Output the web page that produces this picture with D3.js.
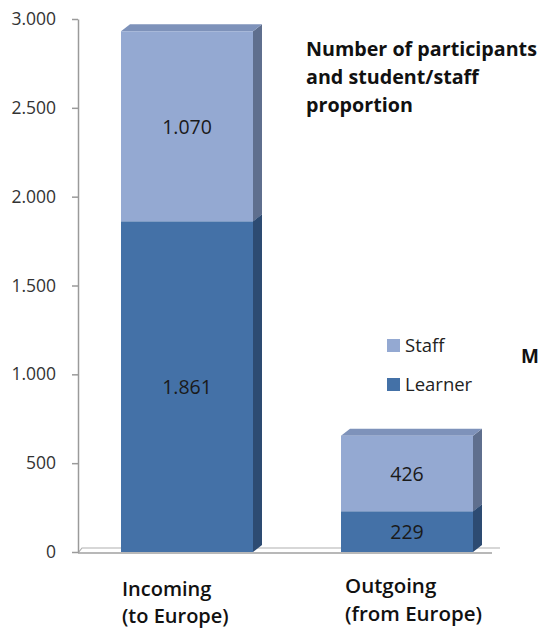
<!DOCTYPE html>
<html>
<head>
<meta charset="utf-8">
<script src="https://cdn.jsdelivr.net/npm/d3@7"></script>
<style>
  body { margin: 0; background: #fff; }
  svg { display: block; font-family: "Open Sans", Lato, sans-serif; }
</style>
</head>
<body>
<script>
// chart values
var categories = ['Incoming', 'Outgoing'];
var categoryLines = [['Incoming', '(to Europe)'], ['Outgoing', '(from Europe)']];
var learner = [1861, 229];
var staff = [1070, 426];
var seriesNames = ['Staff', 'Learner'];
var yTicks = [0, 500, 1000, 1500, 2000, 2500, 3000];
var titleLines = ['Number of participants', 'and student/staff', 'proportion'];

var width = 540, height = 630;
var depthX = 9, depthY = 7;

var colors = {
  Learner: { front: '#4471a7', side: '#2d4b72', top: '#3a6293' },
  Staff:   { front: '#94a9d2', side: '#5f6f8e', top: '#7e92ba' }
};

var locale = d3.formatLocale({ decimal: ',', thousands: '.', grouping: [3], currency: ['', ''] });
var fmt = locale.format(',');

var svg = d3.select('body').append('svg')
  .attr('width', width)
  .attr('height', height);

var y = d3.scaleLinear().domain([0, 3000]).range([552, 19]);
var x = d3.scaleBand().domain(categories).range([77, 517])
  .paddingInner(0.4).paddingOuter(0.2);

// floor
var floorRight = 492;
svg.append('path')
  .attr('d', 'M78,' + (y(0) + 1) + 'L' + (78 + 4) + ',' + (y(0) - 4) + 'L' + (floorRight + 8) + ',' + (y(0) - 4))
  .attr('fill', 'none').attr('stroke', '#b0b0b0').attr('stroke-width', 1.2);
svg.append('line')
  .attr('x1', 78).attr('x2', floorRight)
  .attr('y1', y(0) + 1).attr('y2', y(0) + 1)
  .attr('stroke', '#a0a0a0').attr('stroke-width', 1.5);

// y axis
var yAxis = svg.append('g')
  .attr('transform', 'translate(78,0)')
  .call(d3.axisLeft(y).tickValues(yTicks).tickFormat(fmt).tickSize(6).tickSizeOuter(0));
yAxis.select('.domain').attr('stroke', '#9a9a9a').attr('stroke-width', 1.5);
yAxis.selectAll('.tick line').attr('stroke', '#9a9a9a').attr('stroke-width', 1.5);
yAxis.selectAll('.tick text')
  .attr('x', -22)
  .attr('fill', '#333')
  .style('font-size', '17.5px')
  .style('font-family', '"Open Sans", sans-serif');

// stacked segments
var segments = [];
categories.forEach(function (c, i) {
  segments.push({ cat: c, name: 'Learner', y0: 0, y1: learner[i], value: learner[i] });
  segments.push({ cat: c, name: 'Staff', y0: learner[i], y1: learner[i] + staff[i], value: staff[i] });
});

var bars = svg.append('g');
segments.forEach(function (s) {
  var x0 = x(s.cat), x1 = x(s.cat) + x.bandwidth();
  var top = y(s.y1), bot = y(s.y0);
  var c = colors[s.name];
  // side face
  bars.append('path')
    .attr('d', 'M' + x1 + ',' + bot + 'L' + (x1 + depthX) + ',' + (bot - depthY) +
      'L' + (x1 + depthX) + ',' + (top - depthY) + 'L' + x1 + ',' + top + 'Z')
    .attr('fill', c.side);
  // top face
  bars.append('path')
    .attr('d', 'M' + x0 + ',' + top + 'L' + (x0 + depthX) + ',' + (top - depthY) +
      'L' + (x1 + depthX) + ',' + (top - depthY) + 'L' + x1 + ',' + top + 'Z')
    .attr('fill', c.top);
  // front face
  bars.append('rect')
    .attr('x', x0).attr('y', top)
    .attr('width', x.bandwidth()).attr('height', bot - top)
    .attr('fill', c.front);
  bars.append('text')
    .attr('x', (x0 + x1) / 2)
    .attr('y', (top + bot) / 2 + 7.5)
    .attr('text-anchor', 'middle')
    .attr('fill', '#1a1a1a')
    .style('font-size', '19.5px')
    .text(fmt(s.value));
});

// category labels
var catPos = [{ x: 122, y: 596 }, { x: 345, y: 593 }];
categories.forEach(function (c, i) {
  var t = svg.append('text')
    .attr('x', catPos[i].x)
    .attr('y', catPos[i].y)
    .attr('fill', '#111')
    .style('font-size', i ? '20.5px' : '20px')
    .style('font-weight', 600);
  categoryLines[i].forEach(function (line, j) {
    t.append('tspan').attr('x', catPos[i].x).attr('dy', j ? (i ? 28 : 27) : 0).text(line);
  });
});

// title
var title = svg.append('text')
  .attr('x', 306).attr('y', 56)
  .attr('fill', '#111')
  .style('font-size', '19.7px')
  .style('font-weight', 700);
titleLines.forEach(function (line, j) {
  title.append('tspan').attr('x', 306).attr('dy', j ? 28 : 0).text(line);
});

// legend
var legend = svg.append('g').attr('transform', 'translate(387,339)');
seriesNames.forEach(function (n, i) {
  var g = legend.append('g').attr('transform', 'translate(0,' + (i * 39) + ')');
  g.append('rect').attr('width', 13).attr('height', 13).attr('fill', colors[n].front);
  g.append('text').attr('x', 18).attr('y', 13)
    .attr('fill', '#222')
    .style('font-size', '18.5px')
    .text(n);
});

// partly visible text at the right edge
svg.append('text')
  .attr('x', 521).attr('y', 363)
  .attr('fill', '#111')
  .style('font-size', '19px')
  .style('font-weight', 700)
  .text('M');
</script>
</body>
</html>
